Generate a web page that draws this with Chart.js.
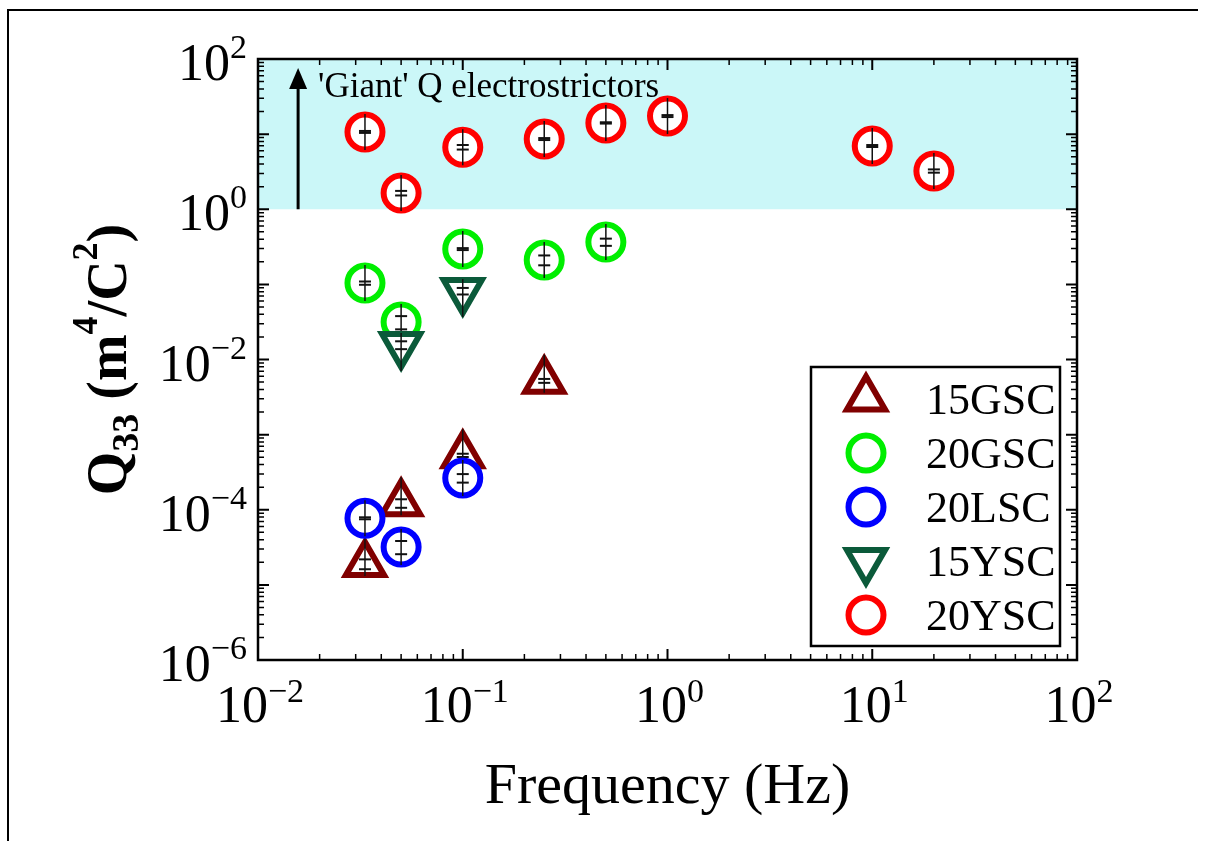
<!DOCTYPE html>
<html><head><meta charset="utf-8">
<script src="https://cdn.jsdelivr.net/npm/chart.js@4"></script>
<style>html,body{margin:0;padding:0;background:#fff}canvas{display:block}</style>
</head><body>
<canvas id="c" width="1206" height="841"></canvas>
<script>
// ---- data ----
const seriesNames = ['15GSC', '20GSC', '20LSC', '15YSC', '20YSC'];
const f15GSC = [0.0333, 0.05, 0.1, 0.25];
const q15GSC = [1.9e-5, 1.22e-4, 5.3e-4, 5.2e-3];
const e15GSC = [0.15, 0.13, 0.05, 0.06];
const f20GSC = [0.0333, 0.05, 0.1, 0.25, 0.5];
const q20GSC = [0.104, 0.0315, 0.295, 0.211, 0.366];
const e20GSC = [0.05, 0.2, 0.03, 0.15, 0.11];
const f20LSC = [0.0333, 0.05, 0.1];
const q20LSC = [7.7e-5, 3.2e-5, 2.64e-4];
const e20LSC = [0.03, 0.2, 0.13];
const f15YSC = [0.05, 0.1];
const q15YSC = [0.0156, 0.0815];
const e15YSC = [0.12, 0.1];
const f20YSC = [0.0333, 0.05, 0.1, 0.25, 0.5, 1, 10, 20];
const q20YSC = [10.7, 1.64, 6.7, 8.6, 14.1, 17.4, 6.95, 3.23];
const e20YSC = [0.03, 0.07, 0.07, 0.03, 0.02, 0.03, 0.03, 0.05];

const xTickValues = [0.01, 0.1, 1, 10, 100];
const xTickExps = ['\u22122', '\u22121', '0', '1', '2'];
const yTickValues = [1e-6, 1e-4, 1e-2, 1, 100];
const yTickExps = ['\u22126', '\u22124', '\u22122', '0', '2'];
const giantThreshold = [1, 100];      // shaded "giant" region (Q33 range)
const giantArrowX = 0.0157;
const giantArrowY = [1, 76];
const giantLabel = "'Giant' Q electrostrictors";

// ---- styling ----
const SERIF = "'Liberation Serif','Times New Roman',serif";
const colors = ['#800000', '#00ee00', '#0000ff', '#0b5a3a', '#ff0000'];
const styles = ['triangle', 'circle', 'circle', 'triangle', 'circle'];
const rotations = [0, 0, 0, 180, 0];
const radii = [22, 17.5, 17.5, 22, 17.5];
const BW = 6;
const freqs = [f15GSC, f20GSC, f20LSC, f15YSC, f20YSC];
const vals = [q15GSC, q20GSC, q20LSC, q15YSC, q20YSC];
const errs = [e15GSC, e20GSC, e20LSC, e15YSC, e20YSC];
const orders = [5, 4, 3, 2, 1];

const datasets = seriesNames.map((n, k) => ({
  label: n,
  data: freqs[k].map((f, i) => ({x: f, y: vals[k][i]})),
  showLine: false,
  pointStyle: styles[k],
  pointRotation: rotations[k],
  pointRadius: radii[k],
  pointHoverRadius: radii[k],
  pointBorderWidth: BW,
  pointHoverBorderWidth: BW,
  pointBorderColor: colors[k],
  pointBackgroundColor: '#ffffff',
  order: orders[k],
  errs: errs[k]
}));

function drawMarker(ctx, style, x, y, r, rot, color) {
  ctx.save();
  ctx.lineWidth = BW; ctx.strokeStyle = color; ctx.fillStyle = '#fff';
  ctx.beginPath();
  if (style === 'circle') {
    ctx.arc(x, y, r, 0, Math.PI * 2);
  } else {
    let rad = rot * Math.PI / 180;
    ctx.moveTo(x + Math.sin(rad) * r, y - Math.cos(rad) * r);
    rad += 2 * Math.PI / 3;
    ctx.lineTo(x + Math.sin(rad) * r, y - Math.cos(rad) * r);
    rad += 2 * Math.PI / 3;
    ctx.lineTo(x + Math.sin(rad) * r, y - Math.cos(rad) * r);
    ctx.closePath();
  }
  ctx.fill(); ctx.stroke();
  ctx.restore();
}

const decorPlugin = {
  id: 'decor',
  beforeDatasetsDraw(chart) {
    const {ctx, chartArea: a, scales: {x, y}} = chart;
    ctx.save();
    const yTop = y.getPixelForValue(giantThreshold[1]);
    const yBot = y.getPixelForValue(giantThreshold[0]);
    ctx.fillStyle = '#cbf7f8';
    ctx.fillRect(a.left, yTop, a.right - a.left, yBot - yTop);
    const ax = x.getPixelForValue(giantArrowX);
    const ay0 = y.getPixelForValue(giantArrowY[0]);
    const ay1 = y.getPixelForValue(giantArrowY[1]);
    ctx.strokeStyle = '#000'; ctx.fillStyle = '#000'; ctx.lineWidth = 3;
    ctx.beginPath(); ctx.moveTo(ax, ay0); ctx.lineTo(ax, ay1 + 16); ctx.stroke();
    ctx.beginPath(); ctx.moveTo(ax, ay1); ctx.lineTo(ax - 9, ay1 + 21); ctx.lineTo(ax + 9, ay1 + 21); ctx.closePath(); ctx.fill();
    ctx.font = `35px ${SERIF}`;
    ctx.textBaseline = 'alphabetic'; ctx.textAlign = 'left';
    ctx.fillText(giantLabel, ax + 20, ay1 + 29);
    ctx.restore();
  },
  afterDatasetDraw(chart, args) {
    const {ctx, scales: {y}} = chart;
    const ds = chart.data.datasets[args.index];
    const k = seriesNames.indexOf(ds.label);
    const meta = args.meta;
    ctx.save();
    ctx.strokeStyle = '#111';
    meta.data.forEach((pt, i) => {
      const v = ds.data[i].y;
      const e = ds.errs[i];
      let up = 18, dn = 18;
      if (styles[k] === 'triangle') {
        if (rotations[k] === 180) { up = 12; dn = 26; } else { up = 26; dn = 12; }
      }
      ctx.lineWidth = 1.5;
      ctx.beginPath(); ctx.moveTo(pt.x, pt.y - up); ctx.lineTo(pt.x, pt.y + dn); ctx.stroke();
      ctx.lineWidth = 2;
      [v * (1 + e), v * (1 - e)].forEach(cv => {
        const cy = y.getPixelForValue(cv);
        ctx.beginPath(); ctx.moveTo(pt.x - 6, cy); ctx.lineTo(pt.x + 6, cy); ctx.stroke();
      });
    });
    ctx.restore();
  },
  afterDraw(chart) {
    const {ctx, chartArea: a, scales: {x, y}} = chart;
    ctx.save();
    ctx.strokeStyle = '#000'; ctx.lineWidth = 2;
    ctx.beginPath(); ctx.moveTo(8, 841); ctx.lineTo(8, 10); ctx.lineTo(1198, 10); ctx.stroke();
    ctx.lineWidth = 2.5;
    ctx.strokeRect(a.left, a.top, a.right - a.left, a.bottom - a.top);
    const decX = [-2, -1, 0, 1, 2], decY = [-6, -5, -4, -3, -2, -1, 0, 1, 2];
    function ticksFor(decs) {
      const out = [];
      decs.forEach((d, j) => {
        out.push({v: Math.pow(10, d), major: true});
        if (j < decs.length - 1) for (let m = 2; m <= 9; m++) out.push({v: m * Math.pow(10, d), major: false});
      });
      return out;
    }
    ticksFor(decX).forEach(t => {
      const px = x.getPixelForValue(t.v);
      const L = t.major ? 11 : 6;
      ctx.lineWidth = t.major ? 2 : 1.5;
      ctx.beginPath();
      ctx.moveTo(px, a.bottom); ctx.lineTo(px, a.bottom - L);
      ctx.moveTo(px, a.top); ctx.lineTo(px, a.top + L);
      ctx.stroke();
    });
    ticksFor(decY).forEach(t => {
      const py = y.getPixelForValue(t.v);
      const L = t.major ? 11 : 6;
      ctx.lineWidth = t.major ? 2 : 1.5;
      ctx.beginPath();
      ctx.moveTo(a.left, py); ctx.lineTo(a.left + L, py);
      ctx.moveTo(a.right, py); ctx.lineTo(a.right - L, py);
      ctx.stroke();
    });
    ctx.fillStyle = '#000'; ctx.textBaseline = 'alphabetic'; ctx.textAlign = 'left';
    const mainF = `52px ${SERIF}`, supF = `34px ${SERIF}`;
    xTickValues.forEach((v, i) => {
      const px = x.getPixelForValue(v);
      ctx.font = mainF; const w1 = ctx.measureText('10').width;
      ctx.font = supF; const w2 = ctx.measureText(xTickExps[i]).width;
      const x0 = px - (w1 + w2) / 2 + 2;
      const base = a.bottom + 62;
      ctx.font = mainF; ctx.fillText('10', x0, base);
      ctx.font = supF; ctx.fillText(xTickExps[i], x0 + w1, base - 20);
    });
    yTickValues.forEach((v, i) => {
      const py = y.getPixelForValue(v);
      ctx.font = mainF; const w1 = ctx.measureText('10').width;
      ctx.font = supF; const w2 = ctx.measureText(yTickExps[i]).width;
      const x0 = a.left - 11 - w1 - w2;
      ctx.font = mainF; ctx.fillText('10', x0, py + 21);
      ctx.font = supF; ctx.fillText(yTickExps[i], x0 + w1, py - 1);
    });
    ctx.font = `58px ${SERIF}`; ctx.textAlign = 'center';
    ctx.fillText('Frequency (Hz)', (a.left + a.right) / 2, 803);
    const parts = [
      {t: 'Q', s: 56, dy: 0}, {t: '33', s: 38, dy: 12}, {t: ' (m', s: 56, dy: 0},
      {t: '4', s: 36, dy: -29}, {t: '/C', s: 56, dy: 0}, {t: '2', s: 36, dy: -29}, {t: ')', s: 56, dy: 0}
    ];
    ctx.textAlign = 'left';
    let total = 0;
    parts.forEach(p => { ctx.font = `bold ${p.s}px ${SERIF}`; p.w = ctx.measureText(p.t).width; total += p.w; });
    ctx.save();
    ctx.translate(126, (a.top + a.bottom) / 2);
    ctx.rotate(-Math.PI / 2);
    let cx = -total / 2;
    parts.forEach(p => { ctx.font = `bold ${p.s}px ${SERIF}`; ctx.fillText(p.t, cx, p.dy); cx += p.w; });
    ctx.restore();
    const lg = {l: 811, t: 367, r: 1060, b: 646};
    ctx.fillStyle = '#fff';
    ctx.fillRect(lg.l, lg.t, lg.r - lg.l, lg.b - lg.t);
    ctx.lineWidth = 2.5; ctx.strokeStyle = '#000';
    ctx.strokeRect(lg.l, lg.t, lg.r - lg.l, lg.b - lg.t);
    const rowY = [398.5, 453, 507, 561, 615];
    seriesNames.forEach((n, k) => {
      drawMarker(ctx, styles[k], 866, rowY[k], radii[k], rotations[k], colors[k]);
      ctx.fillStyle = '#000'; ctx.font = `44px ${SERIF}`; ctx.textAlign = 'left';
      ctx.fillText(n, 926, rowY[k] + 15);
    });
    ctx.restore();
  }
};

new Chart(document.getElementById('c'), {
  type: 'scatter',
  data: {datasets},
  options: {
    responsive: false,
    animation: false,
    events: [],
    layout: {padding: {left: 258, top: 59, right: 129, bottom: 181}},
    plugins: {legend: {display: false}, tooltip: {enabled: false}},
    scales: {
      x: {type: 'logarithmic', min: 0.01, max: 100, display: false},
      y: {type: 'logarithmic', min: 1e-6, max: 100, display: false}
    }
  },
  plugins: [decorPlugin]
});
</script>
</body></html>
